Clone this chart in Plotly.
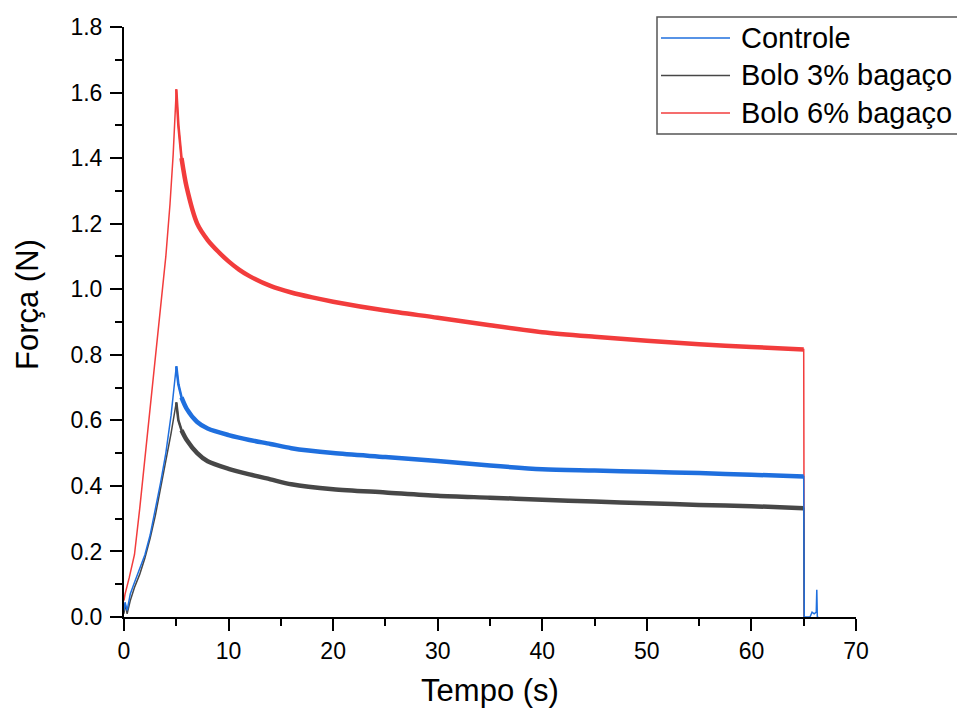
import numpy as np
import plotly.graph_objects as go

# ---------------- data ----------------
t_controle = [0, 0.1, 0.3, 0.6, 1.0, 1.5, 2.0, 2.5, 3.0, 3.5, 4.0, 4.5, 5.0, 5.2, 5.5,
              6, 7, 8, 10, 12, 14, 16, 20, 25, 30, 35, 40, 45, 50, 55, 60, 65,
              65.05, 65.6, 65.8, 66.0, 66.2, 66.25, 66.3, 66.4]
f_controle = [0.02, 0.045, 0.02, 0.07, 0.105, 0.145, 0.19, 0.25, 0.325, 0.41, 0.50, 0.615, 0.765, 0.71, 0.67,
              0.635, 0.595, 0.575, 0.555, 0.54, 0.528, 0.515, 0.50, 0.488, 0.476, 0.462, 0.451, 0.447, 0.443, 0.439, 0.434, 0.429,
              0.0, 0.0, 0.015, 0.01, 0.015, 0.083, 0.0, 0.0]

t_bolo3 = [0, 0.1, 0.3, 0.6, 1.0, 1.5, 2.0, 2.5, 3.0, 3.5, 4.0, 4.5, 5.0, 5.2, 5.5,
           6, 7, 8, 10, 12, 14, 16, 20, 25, 30, 35, 40, 45, 50, 55, 60, 65, 65.05]
f_bolo3 = [0.01, 0.04, 0.01, 0.05, 0.09, 0.13, 0.18, 0.24, 0.31, 0.39, 0.47, 0.56, 0.655, 0.60, 0.57,
           0.54, 0.50, 0.475, 0.452, 0.435, 0.42, 0.405, 0.39, 0.38, 0.37, 0.364, 0.358, 0.352, 0.347, 0.342, 0.338, 0.332, 0.0]

t_bolo6 = [0, 0.1, 0.5, 1.0, 1.5, 2.0, 2.5, 3.0, 3.5, 4.0, 4.4, 4.7, 5.0, 5.2, 5.5,
           6, 7, 8, 9, 10, 11, 12, 14, 16, 18, 20, 25, 30, 35, 40, 45, 50, 55, 60, 65, 65.05]
f_bolo6 = [0.05, 0.07, 0.12, 0.19, 0.33, 0.48, 0.63, 0.78, 0.93, 1.10, 1.26, 1.41, 1.61, 1.50, 1.40,
           1.31, 1.20, 1.15, 1.115, 1.085, 1.06, 1.04, 1.01, 0.99, 0.975, 0.962, 0.935, 0.913, 0.89, 0.869, 0.855, 0.843, 0.832, 0.824, 0.816, 0.0]

series_names = ["Controle", "Bolo 3% bagaço", "Bolo 6% bagaço"]
series_colors = ["#1f6fde", "#474747", "#f23c3c"]

x_tick_vals = [0, 10, 20, 30, 40, 50, 60, 70]
y_tick_vals = [0.0, 0.2, 0.4, 0.6, 0.8, 1.0, 1.2, 1.4, 1.6, 1.8]

FONT = "Arial, Liberation Sans, sans-serif"

# plot-area geometry (page has an 8px body margin)
PL, PR, PT, PB = 124, 856, 27, 617
OFF = 8
W, H = 965 - OFF, 708 - OFF


def px_x(p):
    return (p - PL) / (PR - PL)


def px_y(p):
    return (PB - p) / (PB - PT)


fig = go.Figure()
series = [(t_controle, f_controle), (t_bolo3, f_bolo3), (t_bolo6, f_bolo6)]

for idx in [2, 1, 0]:
    t, f = series[idx]
    t = np.array(t, dtype=float)
    f = np.array(f, dtype=float)
    col = series_colors[idx]
    fig.add_trace(go.Scatter(x=t, y=f, mode="lines", line=dict(color=col, width=1.5),
                             name=series_names[idx], showlegend=False, hoverinfo="skip"))
    # noisy relaxation band, tapering in just after the peak
    m1 = (t >= 5.0) & (t <= 6.0)
    fig.add_trace(go.Scatter(x=t[m1], y=f[m1], mode="lines",
                             line=dict(color=col, width=2.6),
                             showlegend=False, hoverinfo="skip"))
    m2 = (t >= 5.5) & (t <= 65.0)
    fig.add_trace(go.Scatter(x=t[m2], y=f[m2], mode="lines",
                             line=dict(color=col, width=4.5, shape="spline", smoothing=0.8),
                             showlegend=False, hoverinfo="skip"))

axis_common = dict(
    showline=True, linecolor="black", linewidth=2,
    ticks="outside", ticklen=12, tickwidth=2, tickcolor="black",
    showgrid=False, zeroline=False, mirror=False,
    tickfont=dict(family=FONT, size=23, color="black"),
)

fig.update_xaxes(range=[0, 70], tickvals=x_tick_vals,
                 minor=dict(dtick=5, ticklen=7, tickwidth=2, tickcolor="black", ticks="outside"),
                 title=dict(text="Tempo (s)", font=dict(family=FONT, size=31, color="black"), standoff=22),
                 **axis_common)
fig.update_yaxes(range=[0, 1.8], tickvals=y_tick_vals, tickformat=".1f", ticklabelstandoff=3,
                 minor=dict(dtick=0.1, ticklen=7, tickwidth=2, tickcolor="black", ticks="outside"),
                 **axis_common)

annotations = [dict(text="Força (N)", textangle=-90, xref="paper", yref="paper",
                    x=px_x(27), y=px_y(305), xanchor="center", yanchor="middle", showarrow=False,
                    font=dict(family=FONT, size=31, color="black"))]
shapes = [dict(type="rect", xref="paper", yref="paper",
               x0=px_x(657), x1=px_x(980), y0=px_y(134), y1=px_y(17),
               line=dict(color="#555555", width=1.5), fillcolor="white", layer="above")]

row_y = [38, 75.5, 113]
for name, col, ry in zip(series_names, series_colors, row_y):
    shapes.append(dict(type="line", xref="paper", yref="paper",
                       x0=px_x(661), x1=px_x(730), y0=px_y(ry), y1=px_y(ry),
                       line=dict(color=col, width=1.3), layer="above"))
    annotations.append(dict(text=name, xref="paper", yref="paper",
                            x=px_x(739), y=px_y(ry), xanchor="left", yanchor="middle",
                            showarrow=False, font=dict(family=FONT, size=29, color="black")))

fig.update_layout(
    width=W, height=H,
    margin=dict(l=PL - OFF, r=W - (PR - OFF), t=PT - OFF, b=H - (PB - OFF), autoexpand=False),
    paper_bgcolor="white", plot_bgcolor="white",
    font=dict(family=FONT, color="black"),
    showlegend=False,
    shapes=shapes, annotations=annotations,
)

fig.write_html("out.html")
